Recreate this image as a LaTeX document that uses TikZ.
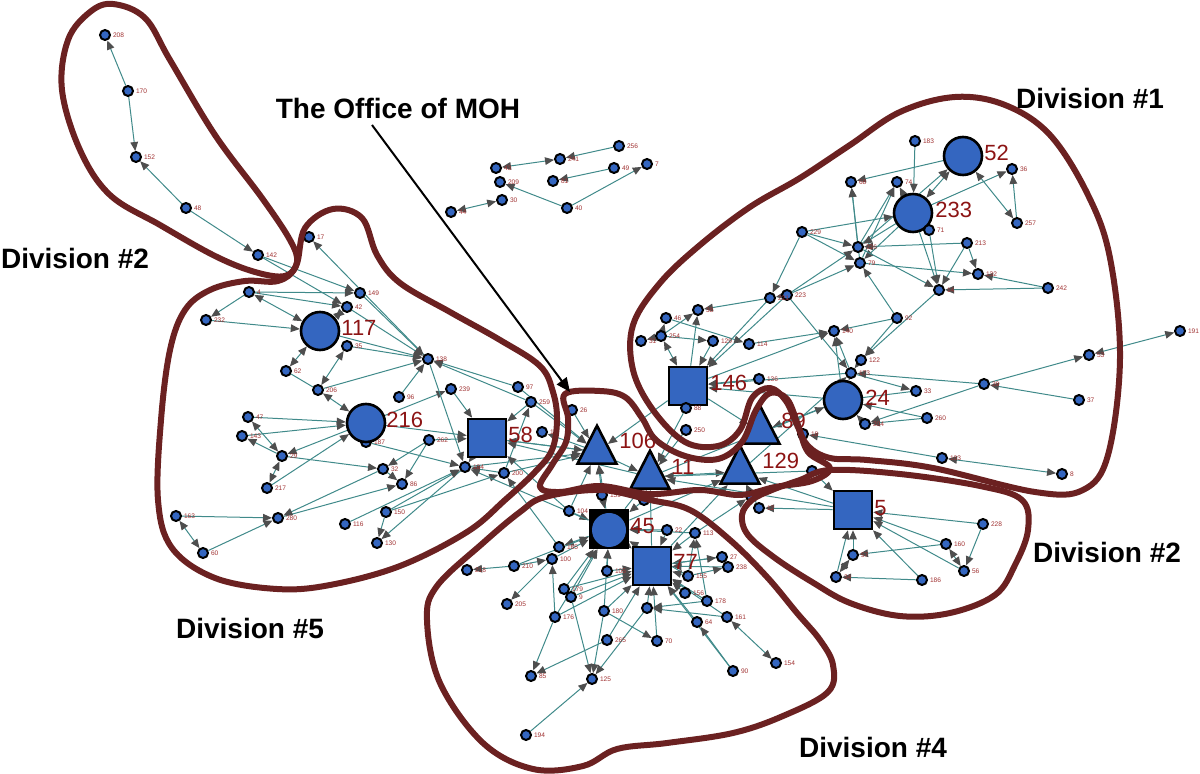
\documentclass[tikz,border=0pt]{standalone}
\usepackage{fontspec}
\setmainfont{Liberation Sans}
\usetikzlibrary{arrows.meta,shapes.geometric,backgrounds}
\definecolor{nblue}{RGB}{52,102,192}
\definecolor{eteal}{RGB}{64,138,138}
\definecolor{ahead}{RGB}{78,78,78}
\definecolor{outl}{RGB}{107,33,33}
\definecolor{blab}{RGB}{140,20,20}
\definecolor{slabc}{RGB}{160,50,50}
\tikzset{
 sn/.style={circle,draw=black,fill=nblue,line width=1pt,minimum size=5pt,inner sep=0pt},
 slab/.style={text=slabc,font=\fontsize{3.3}{4}\selectfont,inner sep=0.8pt},
 bigc/.style={circle,draw=black,fill=nblue,line width=1.3pt,minimum size=19pt,inner sep=0pt},
 bigsq/.style={rectangle,draw=black,fill=nblue,line width=1.3pt,minimum size=19pt,inner sep=0pt},
 tri/.style={isosceles triangle,isosceles triangle stretches,shape border rotate=90,draw=black,fill=nblue,line width=1.3pt,minimum width=19.5pt,minimum height=19pt,inner sep=0pt,anchor=south},
 bigl/.style={text=blab,font=\fontsize{11}{12}\selectfont,anchor=west,inner sep=0pt},
 divtxt/.style={font=\bfseries\fontsize{14}{16}\selectfont,inner sep=0pt},
 ed/.style={draw=eteal,line width=0.5pt,-{Triangle[length=4.5pt,width=3.8pt,color=ahead]}},
 eb/.style={draw=eteal,line width=0.5pt,{Triangle[length=4.5pt,width=3.8pt,color=ahead]}-{Triangle[length=4.5pt,width=3.8pt,color=ahead]}},
 ep/.style={draw=eteal,line width=0.5pt},
 divline/.style={draw=outl,line width=3pt,line join=round}
}
\newcommand{\mknode}[4]{\node[sn,label={[slab]0:#4}] (#1) at (#2,#3) {};}
\begin{document}
\begin{tikzpicture}[x=0.5pt,y=-0.5pt]
\useasboundingbox (0,0) rectangle (1200,774);
% ---- top-left group
\mknode{n208}{105}{35}{208}
\mknode{n170}{128}{91}{170}
\mknode{n152}{136}{157}{152}
\mknode{n48}{186}{208}{48}
\mknode{n142}{258}{255}{142}
\mknode{n17}{309}{237}{17}
% ---- top centre
\mknode{n256}{619}{146}{256}
\mknode{n241}{560}{159}{241}
\mknode{n43}{496}{168}{43}
\mknode{n209}{500}{182}{209}
\mknode{n81}{553}{181}{81}
\mknode{n49}{614}{168}{49}
\mknode{n7}{647}{164}{7}
\mknode{n30}{502}{200}{30}
\mknode{n44}{451}{212}{44}
\mknode{n40}{567}{208}{40}
% ---- division 1
\mknode{n183}{915}{141}{183}
\node[bigc] (c52) at (963,156) {};
\mknode{n36}{1012}{169}{36}
\mknode{n68}{851}{182}{68}
\mknode{n74}{897}{182}{74}
\node[bigc] (c233) at (913,213) {};
\mknode{n71}{929}{230}{71}
\mknode{n257}{1017}{223}{257}
\mknode{n213}{967}{243}{213}
\mknode{n229}{802}{232}{229}
\mknode{n226}{858}{247}{226}
\mknode{n79}{860}{263}{79}
\mknode{n14}{939}{290}{14}
\mknode{n132}{978}{274}{132}
\mknode{n242}{1048}{288}{242}
\mknode{n223}{787}{295}{223}
\mknode{n221}{770}{298}{221}
\mknode{n38}{698}{310}{38}
\mknode{n46}{666}{318}{46}
\mknode{n254}{661}{336}{254}
\mknode{n31}{641}{341}{31}
\mknode{n129s}{713}{341}{129}
\mknode{n114}{749}{344}{114}
\mknode{n140}{834}{331}{140}
\mknode{n92}{897}{318}{92}
\mknode{n122}{861}{360}{122}
\mknode{n173}{851}{373}{173}
\node[bigsq] (s146) at (688,386) {};
\mknode{n136}{759}{379}{136}
\mknode{n88}{686}{408}{88}
\mknode{n250}{686}{430}{250}
\node[bigc] (c24) at (843,400) {};
\mknode{n33}{916}{391}{33}
\mknode{n260}{927}{418}{260}
\mknode{n204}{865}{424}{204}
\mknode{n39}{984}{384}{39}
\mknode{n53}{1089}{355}{53}
\mknode{n191}{1180}{331}{191}
\mknode{n37}{1079}{400}{37}
\mknode{n18}{803}{434}{18}
\mknode{n103}{942}{458}{103}
\mknode{n8}{1062}{474}{8}
\mknode{n80}{812}{471}{80}
% ---- division 5
\mknode{n4}{249}{292}{4}
\mknode{n149}{360}{293}{149}
\mknode{n42}{347}{307}{42}
\mknode{n232}{206}{320}{232}
\node[bigc] (c117) at (320,331) {};
\mknode{n35}{347}{346}{35}
\mknode{n138}{428}{359}{138}
\mknode{n62}{286}{371}{62}
\mknode{n206}{318}{390}{206}
\mknode{n96}{399}{397}{96}
\mknode{n239}{451}{389}{239}
\mknode{n97}{518}{387}{97}
\mknode{n259}{531}{402}{259}
\mknode{n19}{542}{432}{19}
\mknode{n26}{572}{410}{26}
\mknode{n262}{429}{440}{262}
\mknode{n47}{248}{417}{47}
\mknode{n143}{242}{436}{143}
\mknode{n29}{282}{456}{29}
\mknode{n187}{366}{442}{187}
\node[bigc] (c216) at (366,423) {};
\node[bigsq] (s58) at (487,438) {};
\mknode{n32}{383}{469}{32}
\mknode{n184}{465}{467}{184}
\mknode{n200}{504}{473}{200}
\mknode{n86}{402}{484}{86}
\mknode{n217}{267}{488}{217}
\mknode{n150}{386}{512}{150}
\mknode{n280}{278}{518}{280}
\mknode{n116}{345}{524}{116}
\mknode{n130}{377}{543}{130}
\mknode{n60}{203}{553}{60}
\mknode{n163}{176}{516}{163}
% ---- central triangles
\node[tri] (t106) at (597,465) {};
\node[tri] (t11) at (650,490) {};
\node[tri] (t129) at (740,485) {};
\node[tri] (t89) at (760,445) {};
% ---- division 4
\mknode{n159}{602}{495}{159}
\mknode{n61}{644}{500}{61}
\mknode{n104}{569}{511}{104}
\node[rectangle,fill=black,minimum size=20pt,inner sep=0pt] (s45) at (609,529) {};
\node[circle,fill=nblue,minimum size=17pt,inner sep=0pt] (c45) at (609,530) {};
\node[bigsq] (s77) at (652,566) {};
\mknode{n22}{667}{530}{22}
\mknode{n113}{695}{533}{113}
\mknode{n27}{722}{557}{27}
\mknode{n238}{728}{567}{238}
\mknode{n165}{559}{547}{165}
\mknode{n100}{552}{559}{100}
\mknode{n210}{514}{566}{210}
\mknode{n218}{467}{570}{218}
\mknode{n105}{607}{571}{105}
\mknode{n155}{688}{576}{155}
\mknode{n179}{564}{589}{179}
\mknode{n9}{571}{597}{9}
\mknode{n205}{507}{604}{205}
\mknode{n156}{685}{593}{156}
\mknode{n178}{707}{601}{178}
\mknode{n161}{727}{617}{161}
\mknode{n64}{697}{622}{64}
\node[sn] (n3) at (647,608) {};
\mknode{n176}{555}{617}{176}
\mknode{n180}{604}{611}{180}
\mknode{n265}{607}{640}{265}
\mknode{n70}{657}{641}{70}
\mknode{n85}{531}{676}{85}
\mknode{n125}{592}{679}{125}
\mknode{n90}{733}{671}{90}
\mknode{n154}{776}{663}{154}
\mknode{n194}{526}{735}{194}
% ---- division 2 (right)
\node[sn] (n141) at (751,496) {};
\mknode{n12}{759}{508}{12}
\node[bigsq] (s5) at (853,510) {};
\mknode{n228}{983}{524}{228}
\mknode{n160}{946}{544}{160}
\mknode{n57}{853}{555}{57}
\mknode{n56}{964}{571}{56}
\mknode{n186}{922}{580}{186}
\mknode{n34}{836}{577}{34}
% ---- edges
\begin{pgfonlayer}{background}
\foreach \a/\b in {n170/n208,n170/n152,n48/n152,n48/n142,n142/n149,n142/n42,n138/n17,n149/n138,n42/n138,
 n256/n241,n49/n81,n40/n209,n40/n7,
 n4/n232,n4/n149,n4/n42,n232/c117,c117/n138,n35/n138,n206/n138,
 n47/c216,n143/c216,n29/n143,c216/n29,n217/c216,n29/n32,
 c216/s58,c216/n239,n96/n138,n239/s58,n138/n184,n97/n138,n259/n138,t106/n19,n259/s58,n200/n259,
 n262/n32,n262/n86,n32/n86,n187/n184,s58/n184,n200/n184,n184/n130,n150/n130,n150/n184,n116/n184,n150/n200,
 n163/n280,n60/n280,n280/n86,n32/n280,n262/s58,
 t106/s58,t11/s58,n26/t106,n259/t106,n97/t106,s58/t106,n184/t106,n200/t106,
 t106/t11,s146/t106,n250/t11,n88/t11,t11/t129,n80/t11,c24/t89,s146/t89,s5/t129,n12/t129,n141/t129,
 n159/t106,n104/t106,s45/t106,n61/t11,s45/t11,s77/t11,s45/t129,s77/t129,
 n183/c233,c52/n68,n226/c52,c233/n36,n257/n36,c233/n74,n229/c233,n229/n226,n229/n79,n229/n221,
 n226/n68,n79/n68,n79/n74,n226/n74,c233/n226,c233/n79,n71/n14,c233/n14,n213/n132,n213/n226,n213/n14,
 n242/n132,n242/n14,n79/n132,n226/n14,n92/n79,n92/n140,n14/n122,n92/n122,n223/n79,n223/n226,
 n221/n38,n223/n221,n223/n173,c24/n140,s146/n140,n114/n140,n173/n140,n173/n33,n173/c24,n39/n173,
 n122/n173,n39/n53,n37/n39,n39/n204,n260/c24,n260/n204,n204/c24,n103/n18,
 n254/n31,n254/n46,n254/n38,n254/n129s,s146/n38,n129s/s146,n221/s146,n223/s146,n136/s146,c24/s146,
 n173/s146,n46/n114,t11/c24,t129/n173,
 n228/s5,n228/n56,n160/s5,n160/n57,n56/s5,n186/s5,n186/n34,n57/s5,n34/s5,s5/n12,s5/t11,n80/s5,
 n104/s45,s45/n165,n100/s45,n105/s45,n179/s45,n9/s45,n176/s45,n180/s45,n22/s45,n113/s45,n155/s45,
 n61/s45,n210/s45,n210/n218,n210/n100,n159/s45,
 n22/s77,n113/s77,n27/s77,n238/s77,n155/s77,n156/s77,n178/s77,n161/s77,n64/s77,n3/s77,n70/s77,
 n180/s77,n105/s77,n9/s77,n179/s77,n176/s77,s45/s77,n265/s77,n90/s77,
 n100/n205,n176/n85,n265/n85,n194/n125,n9/n125,n180/n125,n3/n125,n180/n70,n90/n64,n161/n3,n178/n3,
 n178/n113,n155/n113,n155/n238,s77/n27,n176/n100,s45/n184,n104/s58,n113/n141,n165/n200}
 \draw[ed] (\a) -- (\b);
\foreach \a/\b in {n43/n241,n44/n30,n4/c117,n42/c117,c117/n62,n35/n206,n206/c216,n47/n29,n29/n217,
 n163/n60,c233/c52,c52/n257,n53/n191,n103/n8,n254/s146,n160/n56,n57/n34,n161/n154}
 \draw[eb] (\a) -- (\b);
\foreach \a/\b in {n62/n206,c24/n33}
 \draw[ep] (\a) -- (\b);
\end{pgfonlayer}
% ---- big labels
\node[bigl] (l52) at (984,153) {52};
\node[bigl] (l233) at (935,210) {233};
\node[bigl] (l117) at (341,328) {117};
\node[bigl] (l216) at (386,420) {216};
\node[bigl] (l58) at (508,435) {58};
\node[bigl] (l146) at (710,383) {146};
\node[bigl] (l24) at (865,398) {24};
\node[bigl] (l106) at (619,441) {106};
\node[bigl] (l11) at (671,467) {11};
\node[bigl] (l129) at (762,461) {129};
\node[bigl] (l89) at (781,421) {89};
\node[bigl] (l45) at (630,526) {45};
\node[bigl] (l77) at (673,562) {77};
\node[bigl] (l5) at (874,508) {5};
% ---- division outlines
\draw[divline] plot[smooth cycle,tension=0.6] coordinates {(113,4) (145,18) (170,60) (215,135) (262,198) (290,240) (297,262) (285,276) (255,272) (215,256) (160,225) (110,195) (80,150) (62,90) (68,40) (90,12)};
\draw[divline] plot[smooth cycle,tension=0.6] coordinates {(305,228) (333,209) (362,218) (377,255) (400,283) (450,312) (500,340) (540,366) (553,392) (557,420) (552,450) (535,472) (505,500) (467,532) (400,566) (330,585) (277,589) (215,578) (172,548) (158,500) (161,420) (170,350) (185,310) (210,290) (245,281) (278,281) (296,266)};
\draw[divline] plot[smooth cycle,tension=0.6] coordinates {(565,394) (600,391) (625,397) (642,418) (656,440) (685,456) (718,459) (742,442) (756,410) (770,393) (787,399) (798,425) (808,452) (830,468) (812,481) (775,487) (740,495) (700,490) (650,494) (600,486) (560,492) (540,487) (552,465) (566,442) (568,418)};
\draw[divline] plot[smooth cycle,tension=0.6] coordinates {(633,325) (660,283) (700,245) (750,207) (800,178) (850,145) (900,112) (955,97) (1005,105) (1050,135) (1088,195) (1110,258) (1120,358) (1108,455) (1083,490) (1035,492) (933,468) (867,460) (830,458) (808,446) (797,425) (786,401) (770,388) (752,398) (740,430) (718,446) (685,442) (653,410) (633,370)};
\draw[divline] plot[smooth cycle,tension=0.6] coordinates {(800,480) (830,470) (900,474) (980,486) (1022,500) (1028,530) (1015,565) (995,595) (950,613) (900,616) (850,603) (812,582) (775,558) (748,535) (742,515) (752,500) (772,490)};
\draw[divline] plot[smooth cycle,tension=0.6] coordinates {(545,497) (600,490) (650,500) (690,510) (730,540) (767,577) (797,613) (820,640) (833,665) (828,692) (783,716) (733,733) (667,743) (617,749) (583,766) (533,769) (483,743) (440,683) (427,620) (437,586) (483,543) (520,512)};
% ---- annotations
\node[divtxt] (d1) at (1090,98) {Division \#1};
\node[divtxt] (d2a) at (75,258) {Division \#2};
\node[divtxt] (d2b) at (1107,552) {Division \#2};
\node[divtxt] (d5) at (250,628) {Division \#5};
\node[divtxt] (d4) at (873,747) {Division \#4};
\node[divtxt] (moh) at (398,108) {The Office of MOH};
\coordinate (mohs) at (372,125);
\coordinate (moht) at (570,392);
\draw[black,line width=1pt,-{Triangle[length=7pt,width=6pt]}] (mohs) -- (moht);
\end{tikzpicture}
\end{document}
